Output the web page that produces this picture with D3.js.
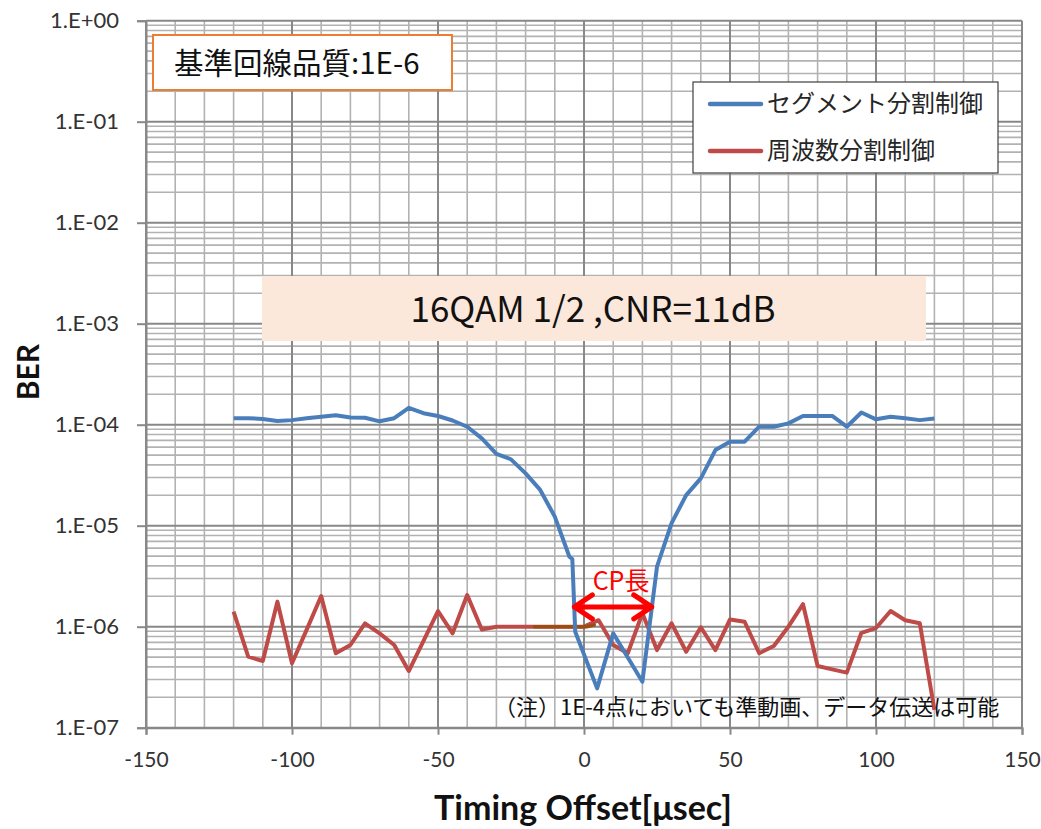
<!DOCTYPE html>
<html><head><meta charset="utf-8">
<script src="https://cdn.jsdelivr.net/npm/d3@7"></script>
<style>
html,body{margin:0;padding:0;background:#fff;}
svg{display:block;}
</style></head>
<body>
<svg id="chart" width="1041" height="829"></svg>
<script>
// ---- data ----
const segX = [-120,-115,-110,-105,-100,-95,-90,-85,-80,-75,-70,-65,-60,-55,-50,-45,-40,-35,-30,-25,-20,-15,-10,-5,-4,-3,4.5,10,20,25,30,35,40,45,50,55,60,65,70,75,80,85,90,95,100,105,110,115,120];
const segBER = [1.16e-4,1.16e-4,1.14e-4,1.09e-4,1.11e-4,1.16e-4,1.20e-4,1.24e-4,1.18e-4,1.17e-4,1.08e-4,1.16e-4,1.47e-4,1.30e-4,1.22e-4,1.10e-4,9.55e-5,7.33e-5,5.13e-5,4.54e-5,3.30e-5,2.26e-5,1.23e-5,4.93e-6,4.68e-6,8.9e-7,2.45e-7,8.6e-7,2.85e-7,3.93e-6,1.06e-5,2.01e-5,2.94e-5,5.61e-5,6.79e-5,6.79e-5,9.55e-5,9.55e-5,1.03e-4,1.22e-4,1.22e-4,1.22e-4,9.55e-5,1.32e-4,1.13e-4,1.20e-4,1.16e-4,1.11e-4,1.15e-4];
const freqX = [-120,-115,-110,-105,-100,-95,-90,-85,-80,-75,-70,-65,-60,-55,-50,-45,-40,-35,-30,-25,-20,-15,-10,-5,0,5,10,15,20,25,30,35,40,45,50,55,60,65,70,75,80,85,90,95,100,105,110,115,120];
const freqBER = [1.41e-6,5.05e-7,4.57e-7,1.77e-6,4.34e-7,9.3e-7,2.01e-6,5.46e-7,6.59e-7,1.08e-6,8.6e-7,6.59e-7,3.64e-7,7.2e-7,1.43e-6,8.6e-7,2.06e-6,9.4e-7,1.0e-6,1.0e-6,1.0e-6,1.0e-6,1.0e-6,1.0e-6,1.0e-6,1.16e-6,6.59e-7,5.46e-7,1.36e-6,5.87e-7,1.08e-6,5.65e-7,9.87e-7,5.87e-7,1.18e-6,1.12e-6,5.46e-7,6.44e-7,1.0e-6,1.67e-6,4.08e-7,3.78e-7,3.51e-7,8.7e-7,9.7e-7,1.43e-6,1.16e-6,1.08e-6,1.5e-7];
const refX = [-17,1,3.5];
const refBER = [1.0e-6,1.0e-6,1.04e-6];
const cpX = [-3.3,23.2];
const cpBER = 1.57e-6;
const seriesNames = ["セグメント分割制御","周波数分割制御"];
const xTicks = [-150,-100,-50,0,50,100,150];
const xTickLabels = ["-150","-100","-50","0","50","100","150"];
const yTicks = [1e0,1e-1,1e-2,1e-3,1e-4,1e-5,1e-6,1e-7];
const yTickLabels = ["1.E+00","1.E-01","1.E-02","1.E-03","1.E-04","1.E-05","1.E-06","1.E-07"];
const xTitle = "Timing Offset[μsec]";
const yTitle = "BER";
const boxTitle = "基準回線品質:1E-6";
const condTitle = "16QAM 1/2 ,CNR=11dB";
const cpLabel = "CP長";
const noteText = "（注）1E-4点においても準動画、データ伝送は可能";

// ---- layout ----
const svg = d3.select("#chart");
const L = 146, R = 1022, T = 20.7, B = 727.7;
const x = d3.scaleLinear().domain([-150,150]).range([L,R]);
const y = d3.scaleLog().domain([1e0,1e-7]).range([T,B]);
const colBlue = "#4A7EBB", colRed = "#BE4B48";
const cjk = "'Noto Sans CJK JP','Noto Sans',sans-serif";
const lat = "Lato,'Open Sans',sans-serif";

// grid
const g = svg.append("g");
const minorX = d3.range(-140,150,10).filter(v => v % 50 !== 0);
g.selectAll("line.vx").data(minorX).join("line")
  .attr("x1",d=>x(d)).attr("x2",d=>x(d)).attr("y1",T).attr("y2",B)
  .attr("stroke","#b2b2b2").attr("stroke-width",1.6);
const minorY = [];
for (let e=-7;e<0;e++) for (let m=2;m<=9;m++) minorY.push(m*Math.pow(10,e));
g.selectAll("line.my").data(minorY).join("line")
  .attr("x1",L).attr("x2",R).attr("y1",d=>y(d)).attr("y2",d=>y(d))
  .attr("stroke","#b2b2b2").attr("stroke-width",1.6);
g.selectAll("line.Mx").data(xTicks).join("line")
  .attr("x1",d=>x(d)).attr("x2",d=>x(d)).attr("y1",T).attr("y2",B)
  .attr("stroke","#888").attr("stroke-width",2);
g.selectAll("line.My").data(yTicks).join("line")
  .attr("x1",L).attr("x2",R).attr("y1",d=>y(d)).attr("y2",d=>y(d))
  .attr("stroke","#888").attr("stroke-width",2);

// axes
const yAxis = d3.axisLeft(y).tickValues(yTicks).tickFormat((d,i)=>yTickLabels[i]).tickSize(9).tickPadding(18);
const ya = svg.append("g").attr("transform",`translate(${L},0)`).call(yAxis);
ya.select(".domain").attr("stroke","#888").attr("stroke-width",2);
ya.selectAll(".tick line").attr("stroke","#888").attr("stroke-width",2);
ya.selectAll("text").attr("font-family",lat).attr("font-size",22).attr("fill","#333");

const xAxis = d3.axisBottom(x).tickValues(xTicks).tickFormat((d,i)=>xTickLabels[i]).tickSize(7).tickPadding(17);
const xa = svg.append("g").attr("transform",`translate(0,${B})`).call(xAxis);
xa.select(".domain").attr("stroke","#888").attr("stroke-width",2);
xa.selectAll(".tick line").attr("stroke","#888").attr("stroke-width",2);
xa.selectAll("text").attr("font-family",lat).attr("font-size",21).attr("fill","#333");

// axis titles
svg.append("text").attr("x",583).attr("y",820).attr("text-anchor","middle")
  .attr("font-family",lat).attr("font-weight","bold").attr("font-size",34).attr("fill","#111").text(xTitle);
svg.append("text").attr("transform","translate(39,372) rotate(-90)").attr("text-anchor","middle")
  .attr("font-family",lat).attr("font-weight","bold").attr("font-size",30).attr("fill","#111").text(yTitle);

// condition box
svg.append("rect").attr("x",262).attr("y",276).attr("width",664).attr("height",65).attr("fill","#FCE8DA");
svg.append("text").attr("x",593).attr("y",322).attr("text-anchor","middle")
  .attr("font-family",cjk).attr("font-size",35).attr("fill","#111").text(condTitle);

// series lines
const line = d3.line().x(d=>x(d[0])).y(d=>y(d[1]));
svg.append("path").datum(freqX.map((v,i)=>[v,freqBER[i]])).attr("d",line)
  .attr("fill","none").attr("stroke",colRed).attr("stroke-width",4).attr("stroke-linejoin","round");
svg.append("path").datum(refX.map((v,i)=>[v,refBER[i]])).attr("d",line)
  .attr("fill","none").attr("stroke","#9A4E12").attr("stroke-width",3.5).attr("stroke-linecap","round");
svg.append("path").datum(segX.map((v,i)=>[v,segBER[i]])).attr("d",line)
  .attr("fill","none").attr("stroke",colBlue).attr("stroke-width",4).attr("stroke-linejoin","round");

// CP arrow
const ax1 = x(cpX[0]), ax2 = x(cpX[1]), ay = y(cpBER);
const hl = 18, hw = 12;
svg.append("path")
  .attr("d",`M${ax1},${ay}L${ax2},${ay}M${ax1+hl},${ay-hw}L${ax1},${ay}L${ax1+hl},${ay+hw}M${ax2-hl},${ay-hw}L${ax2},${ay}L${ax2-hl},${ay+hw}`)
  .attr("fill","none").attr("stroke","#FF0000").attr("stroke-width",5).attr("stroke-linecap","round").attr("stroke-linejoin","round");
svg.append("text").attr("x",(ax1+ax2)/2+8).attr("y",590).attr("text-anchor","middle")
  .attr("font-family",cjk).attr("font-size",25).attr("fill","#FF0000").text(cpLabel);

// note
svg.append("text").attr("x",494).attr("y",715)
  .attr("font-family",cjk).attr("font-size",22).attr("fill","#111").text(noteText);

// title box
svg.append("rect").attr("x",153).attr("y",35).attr("width",299).attr("height",55)
  .attr("fill","#fff").attr("stroke","#ED7D31").attr("stroke-width",2);
svg.append("text").attr("x",174).attr("y",74)
  .attr("font-family",cjk).attr("font-size",29.5).attr("fill","#111").text(boxTitle);

// legend
const lg = svg.append("g");
lg.append("rect").attr("x",693).attr("y",82).attr("width",305).attr("height",91)
  .attr("fill","#fff").attr("stroke","#404040").attr("stroke-width",1.2);
const legCols = [colBlue,colRed];
lg.selectAll("line.l").data(seriesNames).join("line")
  .attr("x1",710).attr("x2",761).attr("y1",(d,i)=>104+i*47).attr("y2",(d,i)=>104+i*47)
  .attr("stroke",(d,i)=>legCols[i]).attr("stroke-width",4.5).attr("stroke-linecap","round");
lg.selectAll("text").data(seriesNames).join("text")
  .attr("x",767).attr("y",(d,i)=>112+i*47)
  .attr("font-family",cjk).attr("font-size",24).attr("fill","#262626").text(d=>d);
</script>
</body></html>
